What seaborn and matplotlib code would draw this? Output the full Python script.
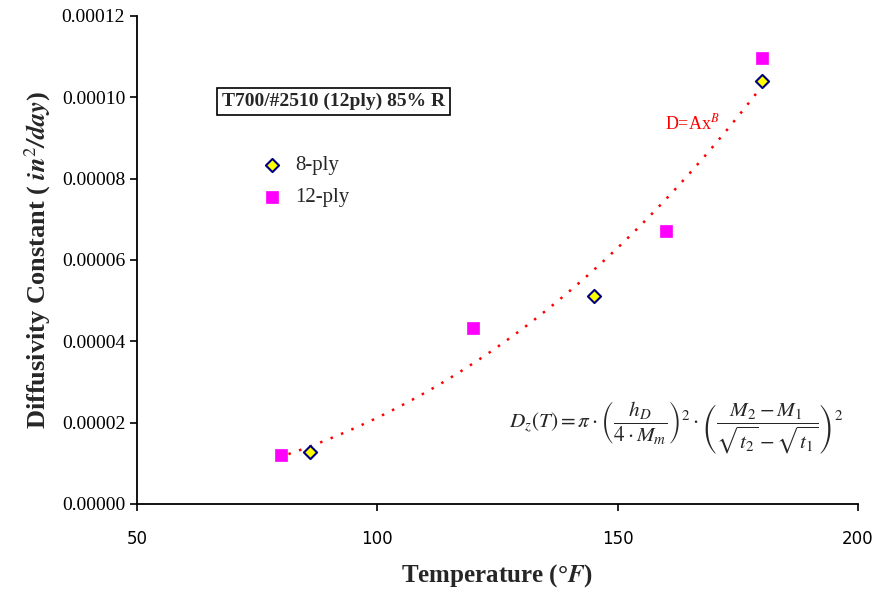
import numpy as np
import pandas as pd
import matplotlib
matplotlib.use("Agg")
import matplotlib.pyplot as plt
import seaborn as sns

# Data
temp_8ply = [86, 145, 180]
diff_8ply = [1.28e-5, 5.11e-5, 1.04e-4]
temp_12ply = [80, 120, 160, 180]
diff_12ply = [1.20e-5, 4.33e-5, 6.71e-5, 1.097e-4]
x_ticks = [50, 100, 150, 200]
y_ticks = [0.0, 0.00002, 0.00004, 0.00006, 0.00008, 0.00010, 0.00012]

sns.set_style("white")
plt.rcParams['font.family'] = ['Liberation Serif', 'DejaVu Serif']
plt.rcParams['mathtext.fontset'] = 'stix'

df = pd.DataFrame({
    "T": temp_8ply + temp_12ply,
    "D": diff_8ply + diff_12ply,
    "series": ["8-ply"] * len(temp_8ply) + ["12-ply"] * len(temp_12ply),
})

fig = plt.figure(figsize=(8.8, 5.9), dpi=100)
ax = fig.add_axes([0.1557, 0.1458, 0.8193, 0.8271])

# power trendline fit on all points
lx = np.log(df["T"].values)
ly = np.log(df["D"].values)
B, lnA = np.polyfit(lx, ly, 1)
xs = np.linspace(df["T"].min() + 1.5, df["T"].max(), 200)
ys = np.exp(lnA) * xs ** B
ax.plot(xs, ys, color="red", linestyle=(0, (1, 3.5)), linewidth=1.8, zorder=1)

sns.scatterplot(data=df[df.series == "8-ply"], x="T", y="D", ax=ax, marker="D",
                s=45, color="#ffff00", edgecolor="#000080", linewidth=1.5, zorder=3,
                label="8-ply")
sns.scatterplot(data=df[df.series == "12-ply"], x="T", y="D", ax=ax, marker="s",
                s=70, color="#ff00ff", edgecolor="#ff00ff", linewidth=0.5, zorder=3,
                label="12-ply")

ax.set_xlim(50, 200)
ax.set_ylim(0, 0.00012)
ax.set_xticks(x_ticks)
ax.set_yticks(y_ticks)
ax.set_yticklabels([f"{v:.5f}" for v in y_ticks], fontsize=14)
ax.set_xticklabels([str(v) for v in x_ticks], fontsize=12, family=['DejaVu Sans'])
ax.tick_params(axis='both', direction='out', length=5, width=1.2, colors='black',
               left=True, bottom=True)
ax.tick_params(axis='x', pad=14)
for s in ['top', 'right']:
    ax.spines[s].set_visible(False)
for s in ['left', 'bottom']:
    ax.spines[s].set_color('black')
    ax.spines[s].set_linewidth(1.3)

ax.set_xlabel(r"Temperature (°$\mathbfit{F}$)", fontsize=18, fontweight='bold', labelpad=10)
ax.set_ylabel(r"Diffusivity Constant ( $\mathbfit{in}^{2}\mathbfit{/day}$)", fontsize=19,
              fontweight='bold', labelpad=6)

leg = ax.legend(loc='upper left', bbox_to_anchor=(0.133, 0.752), frameon=False,
                fontsize=15, handletextpad=0.1, labelspacing=0.6)

ax.text(0.118, 0.825, "T700/#2510 (12ply) 85% R", transform=ax.transAxes,
        fontsize=14, fontweight='bold', va='center', ha='left',
        bbox=dict(boxstyle='square,pad=0.25', facecolor='white', edgecolor='black', linewidth=1.2))

ax.text(0.733, 0.78, r"D=Ax$^{B}$", transform=ax.transAxes, color='red', fontsize=13,
        va='center', ha='left')

ax.text(0.748, 0.155,
        r"$D_z(T) = \pi\cdot\left(\dfrac{h_D}{4\cdot M_m}\right)^2\cdot\left(\dfrac{M_2 - M_1}{\sqrt{t_2}-\sqrt{t_1}}\right)^2$",
        transform=ax.transAxes, fontsize=15.3, ha='center', va='center')

fig.savefig("out.png", dpi=100)
